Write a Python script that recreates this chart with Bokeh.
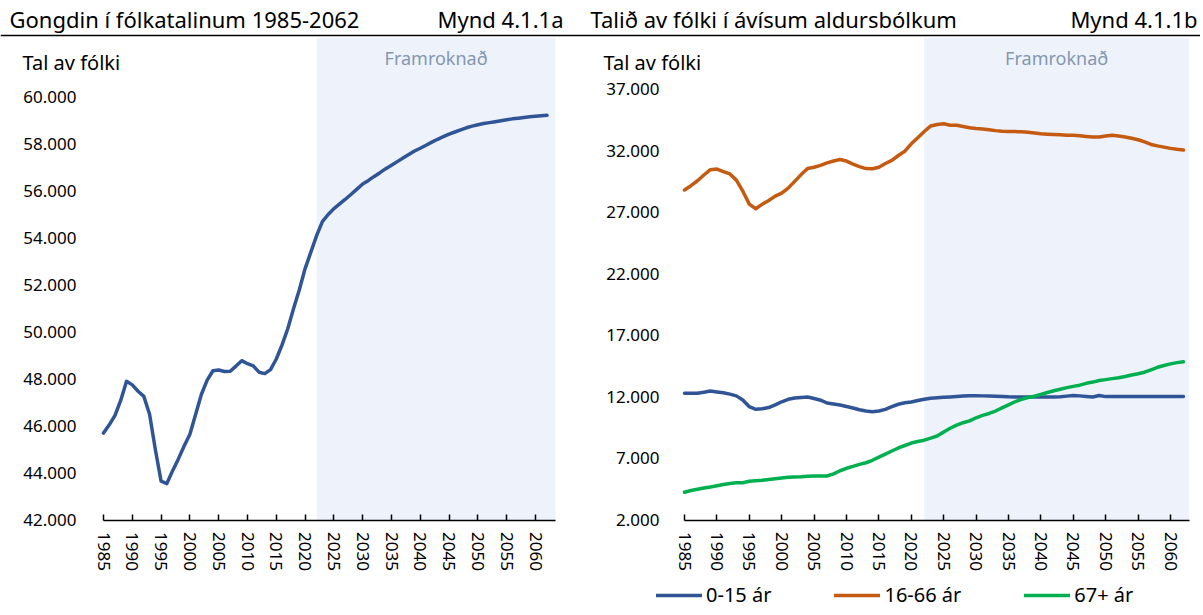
from bokeh.plotting import figure
from bokeh.layouts import column, row
from bokeh.models import FixedTicker, Label, Legend, LegendItem, BoxAnnotation, Range1d, Span
from bokeh.core.properties import value
from bokeh.embed import file_html
from bokeh.resources import INLINE

FONT = "Noto Sans"

# ---------------- data ----------------
years = list(range(1985, 2063))

total = [45700, 46050, 46450, 47100, 47900, 47750, 47480, 47260, 46500, 45000,
         43650, 43550, 44100, 44600, 45150, 45650, 46500, 47350, 47950, 48350,
         48380, 48320, 48330, 48550, 48780, 48650, 48560, 48290, 48230, 48400,
         48850, 49450, 50150, 51000, 51800, 52700, 53400, 54100, 54700, 55000,
         55250, 55450, 55650, 55860, 56080, 56300, 56450, 56620, 56780, 56950,
         57100, 57250, 57400, 57550, 57700, 57820, 57950, 58080, 58200, 58310,
         58420, 58510, 58600, 58690, 58760, 58820, 58870, 58910, 58950, 58990,
         59030, 59070, 59100, 59130, 59160, 59180, 59200, 59220]

age_0_15 = [12290, 12290, 12290, 12380, 12470, 12400, 12330, 12220, 12080, 11750,
            11200, 10990, 11030, 11130, 11350, 11600, 11800, 11900, 11950, 11990,
            11870, 11730, 11500, 11420, 11340, 11220, 11100, 10950, 10850, 10800,
            10850, 10980, 11200, 11400, 11520, 11580, 11700, 11800, 11880, 11920,
            11960, 11990, 12030, 12070, 12100, 12100, 12080, 12070, 12050, 12030,
            12000, 11990, 11990, 11990, 11990, 11990, 11990, 11990, 12000, 12060,
            12110, 12080, 12030, 11990, 12110, 12020, 12020, 12020, 12020, 12020,
            12020, 12020, 12020, 12020, 12020, 12020, 12020, 12020]

age_16_66 = [28800, 29150, 29550, 30017, 30450, 30500, 30300, 30100, 29600, 28700,
             27650, 27280, 27650, 27950, 28300, 28550, 28950, 29500, 30050, 30550,
             30650, 30800, 31000, 31150, 31270, 31150, 30900, 30700, 30540, 30530,
             30650, 30950, 31200, 31600, 31950, 32550, 33050, 33550, 34000, 34120,
             34180, 34060, 34050, 33950, 33860, 33800, 33760, 33690, 33620, 33570,
             33540, 33540, 33530, 33480, 33420, 33360, 33330, 33300, 33280, 33250,
             33240, 33200, 33150, 33110, 33110, 33180, 33240, 33180, 33100, 33000,
             32880, 32700, 32500, 32380, 32280, 32180, 32100, 32050]

age_67 = [4250, 4400, 4500, 4600, 4680, 4780, 4880, 4960, 5020, 5030,
          5150, 5190, 5220, 5290, 5350, 5410, 5470, 5500, 5510, 5550,
          5570, 5570, 5575, 5750, 6000, 6200, 6350, 6520, 6650, 6850,
          7100, 7350, 7600, 7850, 8050, 8250, 8380, 8480, 8650, 8820,
          9150, 9450, 9700, 9900, 10050, 10300, 10500, 10650, 10850, 11100,
          11350, 11600, 11800, 11950, 12050, 12200, 12350, 12500, 12620, 12750,
          12850, 12950, 13100, 13200, 13330, 13400, 13480, 13550, 13650, 13780,
          13880, 14000, 14200, 14400, 14550, 14680, 14780, 14850]

series_names = ["0-15 ár", "16-66 ár", "67+ ár"]
series_colors = ["#2F5597", "#C55A11", "#00B050"]
proj_start = 2022
x_ticks = list(range(1985, 2061, 5))
left_y_ticks = list(range(42000, 60001, 2000))
right_y_ticks = list(range(2000, 37001, 5000))

title_a = "Gongdin í fólkatalinum 1985-2062"
fig_a = "Mynd 4.1.1a"
title_b = "Talið av fólki í ávísum aldursbólkum"
fig_b = "Mynd 4.1.1b"
y_label = "Tal av fólki"
proj_label = "Framroknað"

SHADE = "#EEF2FA"
PROJ_COLOR = "#8497B0"


def fmt(v):
    return f"{v:,}".replace(",", ".")


# ---------------- header ----------------
HW, HH = 1200, 37
header = figure(width=HW, height=HH, x_range=Range1d(0, HW), y_range=Range1d(0, HH),
                output_backend="svg", toolbar_location=None, title=None,
                x_axis_location=None, y_axis_location=None, min_border=0)
header.grid.visible = False
header.outline_line_color = None
header.text(x=[9, 563, 590, 1197], y=[19, 19, 19, 19], text=[title_a, fig_a, title_b, fig_b],
            text_align=["left", "right", "left", "right"], text_baseline="middle",
            text_font=value(FONT), text_font_size="22px", text_color="#000000")
header.add_layout(Span(location=2, dimension="width", line_color="#000000", line_width=1.5))

CH = 578          # chart height (frame fills the whole figure)
BOTTOM_PAD = 95.5  # px between the x axis and the figure bottom
TOP_PAD = 482.5    # px between the x axis and the figure top


def make_chart(width, first_px, px_per_year, axis_end_px, y_base, px_per_1000, y_ticks, standoff):
    x_start = years[0] - first_px / px_per_year
    x_end = years[0] + (width - first_px) / px_per_year
    axis_end = years[0] + (axis_end_px - first_px) / px_per_year
    y_start = y_base - BOTTOM_PAD / px_per_1000 * 1000
    y_end = y_base + TOP_PAD / px_per_1000 * 1000
    p = figure(width=width, height=CH, min_border=0, output_backend="svg",
               toolbar_location=None, title=None,
               x_range=Range1d(x_start, x_end), y_range=Range1d(y_start, y_end))
    p.grid.visible = False
    p.outline_line_color = None

    xa = p.xaxis[0]
    xa.fixed_location = y_base
    xa.bounds = (years[0], axis_end)
    xa.ticker = FixedTicker(ticks=x_ticks)
    xa.major_label_orientation = "vertical"
    xa.major_tick_in = 6
    xa.major_tick_out = 0
    xa.minor_tick_line_color = None
    xa.axis_line_color = "#000000"
    xa.axis_line_width = 1.5
    xa.major_tick_line_color = "#000000"
    xa.major_tick_line_width = 1.5
    xa.major_label_standoff = 12
    xa.major_label_text_font = FONT
    xa.major_label_text_font_size = "17px"
    xa.major_label_text_color = "#000000"

    ya = p.yaxis[0]
    ya.fixed_location = years[0]
    ya.ticker = FixedTicker(ticks=y_ticks)
    ya.major_label_overrides = {t: fmt(t) for t in y_ticks}
    ya.axis_line_color = None
    ya.major_tick_line_color = None
    ya.minor_tick_line_color = None
    ya.major_tick_out = 0
    ya.major_tick_in = 0
    ya.major_label_standoff = standoff
    ya.major_label_text_font = FONT
    ya.major_label_text_font_size = "17px"
    ya.major_label_text_color = "#000000"

    p.add_layout(BoxAnnotation(left=proj_start, right=axis_end, bottom=y_base, top=y_end,
                               fill_color=SHADE, fill_alpha=1.0, line_color=None,
                               level="underlay"))
    p.add_layout(Label(x=(proj_start + axis_end) / 2, y=558, y_units="screen",
                       text=proj_label, text_align="center", text_baseline="middle",
                       text_font=FONT, text_font_size="18px", text_color=PROJ_COLOR))
    p.add_layout(Label(x=first_px - 81, y=553, x_units="screen", y_units="screen",
                       text=y_label, text_align="left", text_baseline="middle",
                       text_font=FONT, text_font_size="20px", text_color="#000000"))
    return p


# ---------------- left chart ----------------
p1 = make_chart(578, 103, 5.76, 555, left_y_ticks[0], 23.5, left_y_ticks, 27)
p1.line(years, total, line_color=series_colors[0], line_width=3.5,
        line_join="round", line_cap="round")

# ---------------- right chart ----------------
p2 = make_chart(622, 106, 6.48, 610.5, right_y_ticks[0], 12.314, right_y_ticks, 25)
renderers = []
for vals, col in zip([age_0_15, age_16_66, age_67], series_colors):
    r = p2.line(years, vals, line_color=col, line_width=3.5, line_join="round", line_cap="round")
    renderers.append(r)

legend = Legend(items=[LegendItem(label=n, renderers=[r]) for n, r in zip(series_names, renderers)],
                orientation="horizontal", location=(78, 7),
                glyph_width=46, glyph_height=20, label_standoff=4, spacing=63,
                padding=0, margin=0, border_line_color=None, background_fill_alpha=0,
                label_text_font=FONT, label_text_font_size="20px", label_text_color="#000000",
                label_height=20)
p2.add_layout(legend, "center")

layout = column(header, row(p1, p2, spacing=0), spacing=0)
open("out.html", "w").write(file_html(layout, INLINE))
